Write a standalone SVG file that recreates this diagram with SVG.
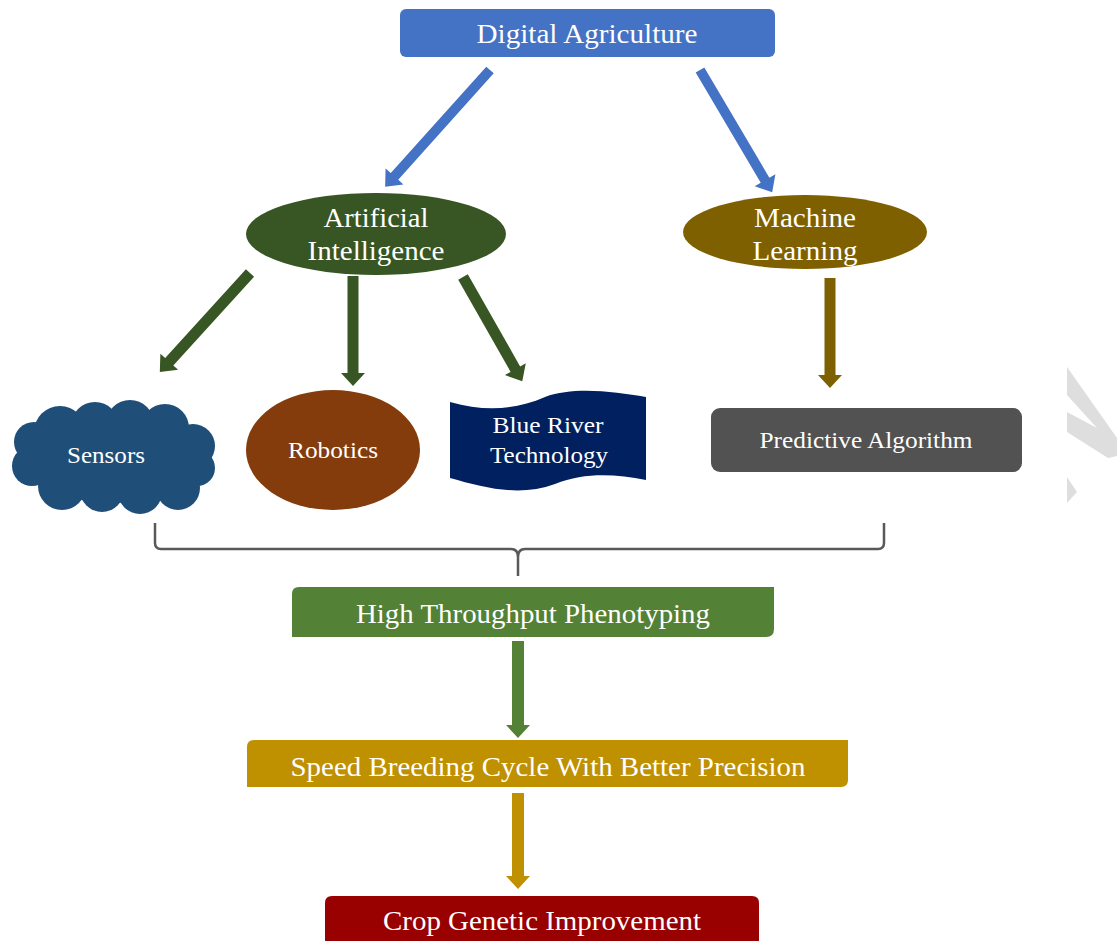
<svg xmlns="http://www.w3.org/2000/svg" width="1117" height="941" viewBox="0 0 1117 941">
<style>
  text { font-family: "Liberation Serif", "Times New Roman", serif; fill: #ffffff; text-anchor: middle; }
  .big { font-size: 27px; }
  .small { font-size: 23px; }
  .arw { stroke: none; }
</style>
<rect width="1117" height="941" fill="#ffffff"/>

<g id="connectors">
  <!-- Digital Agriculture -> AI -->
  <path class="arw" fill="#4472C4" transform="translate(490,70) rotate(131.9)" d="M0,-5 L143,-5 L143,-12 L157,0 L143,12 L143,5 L0,5 Z"/>
  <!-- Digital Agriculture -> ML -->
  <path class="arw" fill="#4472C4" transform="translate(700,70) rotate(59.45)" d="M0,-5 L128,-5 L128,-12 L142,0 L128,12 L128,5 L0,5 Z"/>
  <!-- AI -> Sensors -->
  <path class="arw" fill="#375623" transform="translate(250,273) rotate(132.3)" d="M0,-5.5 L120,-5.5 L120,-12 L134,0 L120,12 L120,5.5 L0,5.5 Z"/>
  <!-- AI -> Robotics -->
  <path class="arw" fill="#375623" transform="translate(353,276) rotate(90)" d="M0,-5.5 L97,-5.5 L97,-12 L110,0 L97,12 L97,5.5 L0,5.5 Z"/>
  <!-- AI -> Blue River -->
  <path class="arw" fill="#375623" transform="translate(463,277) rotate(60.4)" d="M0,-5.5 L106,-5.5 L106,-12 L120,0 L106,12 L106,5.5 L0,5.5 Z"/>
  <!-- ML -> Predictive -->
  <path class="arw" fill="#7F6000" transform="translate(830,278) rotate(90)" d="M0,-5.5 L97,-5.5 L97,-12 L110,0 L97,12 L97,5.5 L0,5.5 Z"/>
  <!-- brace -->
  <path d="M155,523 L155,543 Q155,549 161,549 L511,549 Q518,549 518,557 L518,576 M518,557 Q518,549 525,549 L878,549 Q884,549 884,543 L884,523" fill="none" stroke="#595959" stroke-width="2.5"/>
  <!-- HTP -> Speed -->
  <path class="arw" fill="#538135" transform="translate(518,641) rotate(90)" d="M0,-6 L84,-6 L84,-12 L97,0 L84,12 L84,6 L0,6 Z"/>
  <!-- Speed -> Crop -->
  <path class="arw" fill="#BF9000" transform="translate(518,793) rotate(90)" d="M0,-6 L83,-6 L83,-12 L96,0 L83,12 L83,6 L0,6 Z"/>
</g>

<g id="digital-agriculture">
  <rect x="400" y="9" width="375" height="48" rx="6" fill="#4472C4"/>
  <text class="big" x="587" y="43" textLength="221" lengthAdjust="spacingAndGlyphs">Digital Agriculture</text>
</g>

<g id="artificial-intelligence">
  <ellipse cx="376" cy="234" rx="130" ry="41" fill="#375623"/>
  <text class="big" x="376" y="227" textLength="105" lengthAdjust="spacingAndGlyphs">Artificial</text>
  <text class="big" x="376" y="260" textLength="137" lengthAdjust="spacingAndGlyphs">Intelligence</text>
</g>

<g id="machine-learning">
  <ellipse cx="805" cy="232" rx="122" ry="37" fill="#7F6000"/>
  <text class="big" x="805" y="227" textLength="102" lengthAdjust="spacingAndGlyphs">Machine</text>
  <text class="big" x="805" y="260" textLength="105" lengthAdjust="spacingAndGlyphs">Learning</text>
</g>

<g id="sensors">
  <g fill="#1F4E79">
    <ellipse cx="113" cy="457" rx="90" ry="46"/>
    <circle cx="60" cy="432" r="26"/>
    <circle cx="95" cy="426" r="24"/>
    <circle cx="130" cy="424" r="24"/>
    <circle cx="165" cy="428" r="24"/>
    <circle cx="193" cy="446" r="22"/>
    <circle cx="197" cy="468" r="18"/>
    <circle cx="178" cy="488" r="22"/>
    <circle cx="140" cy="492" r="22"/>
    <circle cx="102" cy="490" r="22"/>
    <circle cx="62" cy="486" r="24"/>
    <circle cx="32" cy="466" r="20"/>
    <circle cx="34" cy="442" r="20"/>
  </g>
  <text class="small" x="106" y="463" textLength="78" lengthAdjust="spacingAndGlyphs">Sensors</text>
</g>

<g id="robotics">
  <ellipse cx="333" cy="450" rx="87" ry="60" fill="#843C0C"/>
  <text class="small" x="333" y="458" textLength="90" lengthAdjust="spacingAndGlyphs">Robotics</text>
</g>

<g id="blue-river-technology">
  <path d="M450,402 C485,412 515,410 545,397 C575,386 615,392 646,397 L646,480 C615,474 585,472 555,484 C520,497 485,488 450,478 Z" fill="#002060"/>
  <text class="small" x="548" y="433" textLength="111" lengthAdjust="spacingAndGlyphs">Blue River</text>
  <text class="small" x="549" y="463" textLength="118" lengthAdjust="spacingAndGlyphs">Technology</text>
</g>

<g id="predictive-algorithm">
  <rect x="711" y="408" width="311" height="64" rx="9" fill="#525252"/>
  <text class="small" x="866" y="448" textLength="213" lengthAdjust="spacingAndGlyphs">Predictive Algorithm</text>
</g>

<g id="high-throughput-phenotyping">
  <path d="M299,587 L774,587 L774,629 Q774,637 766,637 L292,637 L292,594 Q292,587 299,587 Z" fill="#538135"/>
  <text class="big" x="533" y="623" textLength="354" lengthAdjust="spacingAndGlyphs">High Throughput Phenotyping</text>
</g>

<g id="speed-breeding">
  <path d="M254,740 L848,740 L848,780 Q848,787 841,787 L247,787 L247,747 Q247,740 254,740 Z" fill="#BF9000"/>
  <text class="big" x="548" y="776" textLength="515" lengthAdjust="spacingAndGlyphs">Speed Breeding Cycle With Better Precision</text>
</g>

<g id="crop-genetic-improvement">
  <path d="M332,896 L752,896 Q759,896 759,903 L759,941 L325,941 L325,903 Q325,896 332,896 Z" fill="#990000"/>
  <text class="big" x="542" y="930" textLength="318" lengthAdjust="spacingAndGlyphs">Crop Genetic Improvement</text>
</g>

<g id="watermark" fill="#dedede">
  <polygon points="1067,367 1117,438 1117,456 1108,458 1067,432 1067,412 1097,428 1067,395"/>
  <polygon points="1067,477 1077,492 1067,503"/>
</g>
</svg>
